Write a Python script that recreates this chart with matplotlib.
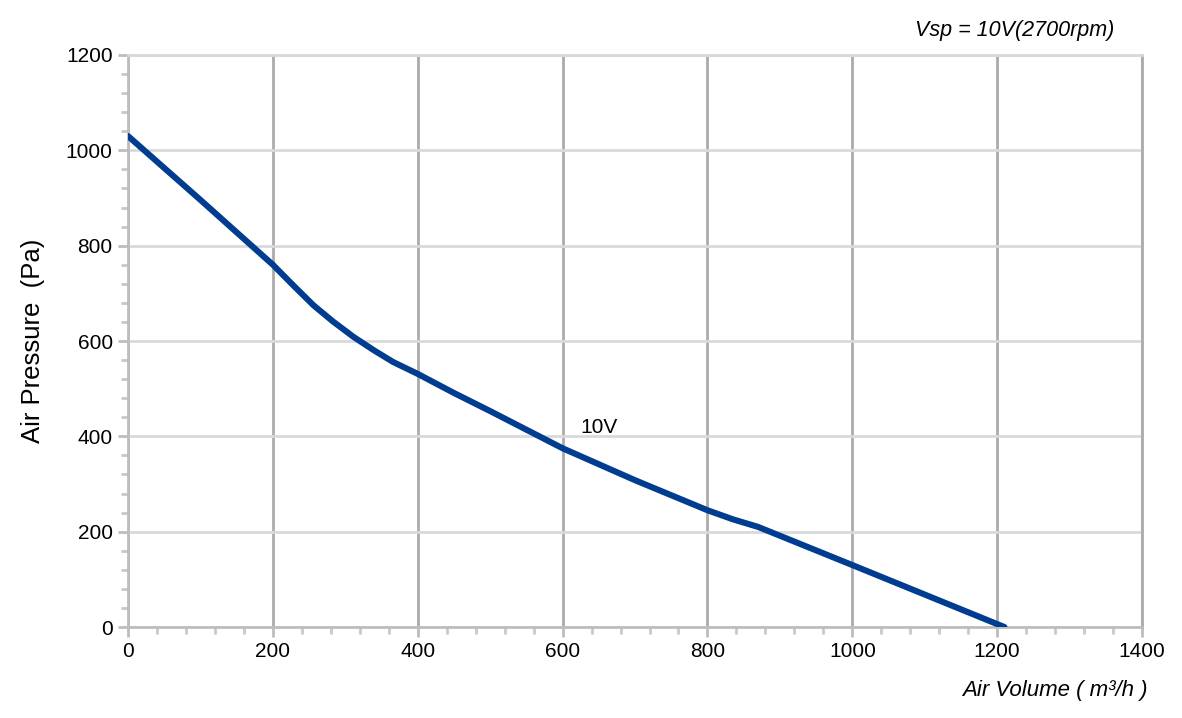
import matplotlib.pyplot as plt
from matplotlib.ticker import MultipleLocator

plt.rcParams['font.family'] = ['Liberation Sans', 'DejaVu Sans']

# 10V curve
air_volume = [0, 100, 200, 228, 256, 283, 311, 339, 366, 400, 450, 500, 600, 700, 800, 835, 870, 1000, 1210]
air_pressure = [1030, 896, 760, 717, 675, 641, 609, 581, 556, 531, 491, 453, 375, 308, 245, 226, 210, 130, 0]
curve_label = '10V'
x_ticks = [0, 200, 400, 600, 800, 1000, 1200, 1400]
y_ticks = [0, 200, 400, 600, 800, 1000, 1200]

fig = plt.figure(figsize=(11.82, 7.18), dpi=100)
ax = fig.add_axes([0.1083, 0.1267, 0.8579, 0.7967])

ax.plot(air_volume, air_pressure, color='#003c8f', lw=4.4,
        solid_capstyle='round', solid_joinstyle='round', zorder=3)
ax.text(624, 398, curve_label, fontsize=15, ha='left', va='bottom')

ax.set_xlim(0, 1400)
ax.set_ylim(0, 1200)
ax.set_xticks(x_ticks)
ax.set_yticks(y_ticks)
ax.xaxis.set_minor_locator(MultipleLocator(40))
ax.yaxis.set_minor_locator(MultipleLocator(40))

ax.grid(axis='x', which='major', color='#ababab', lw=2, zorder=1)
ax.grid(axis='y', which='major', color='#d9d9d9', lw=2, zorder=1)

for side in ['left', 'bottom']:
    ax.spines[side].set_color('#bdbdbd')
    ax.spines[side].set_linewidth(2)
ax.spines['top'].set_color('#d9d9d9')
ax.spines['top'].set_linewidth(2)
ax.spines['right'].set_color('#ababab')
ax.spines['right'].set_linewidth(2)

ax.tick_params(which='major', length=7, width=2, color='#bdbdbd', labelsize=15, pad=4)
ax.tick_params(which='minor', length=5, width=2, color='#c8c8c8')

ax.set_ylabel('Air Pressure  (Pa)', fontsize=18.5, labelpad=15)
fig.text(0.943, 0.958, 'Vsp = 10V(2700rpm)', fontsize=15.5, style='italic', ha='right', va='center')
fig.text(0.971, 0.038, 'Air Volume ( m³/h )', fontsize=16, style='italic', ha='right', va='center')

plt.savefig('out.png', dpi=100)
